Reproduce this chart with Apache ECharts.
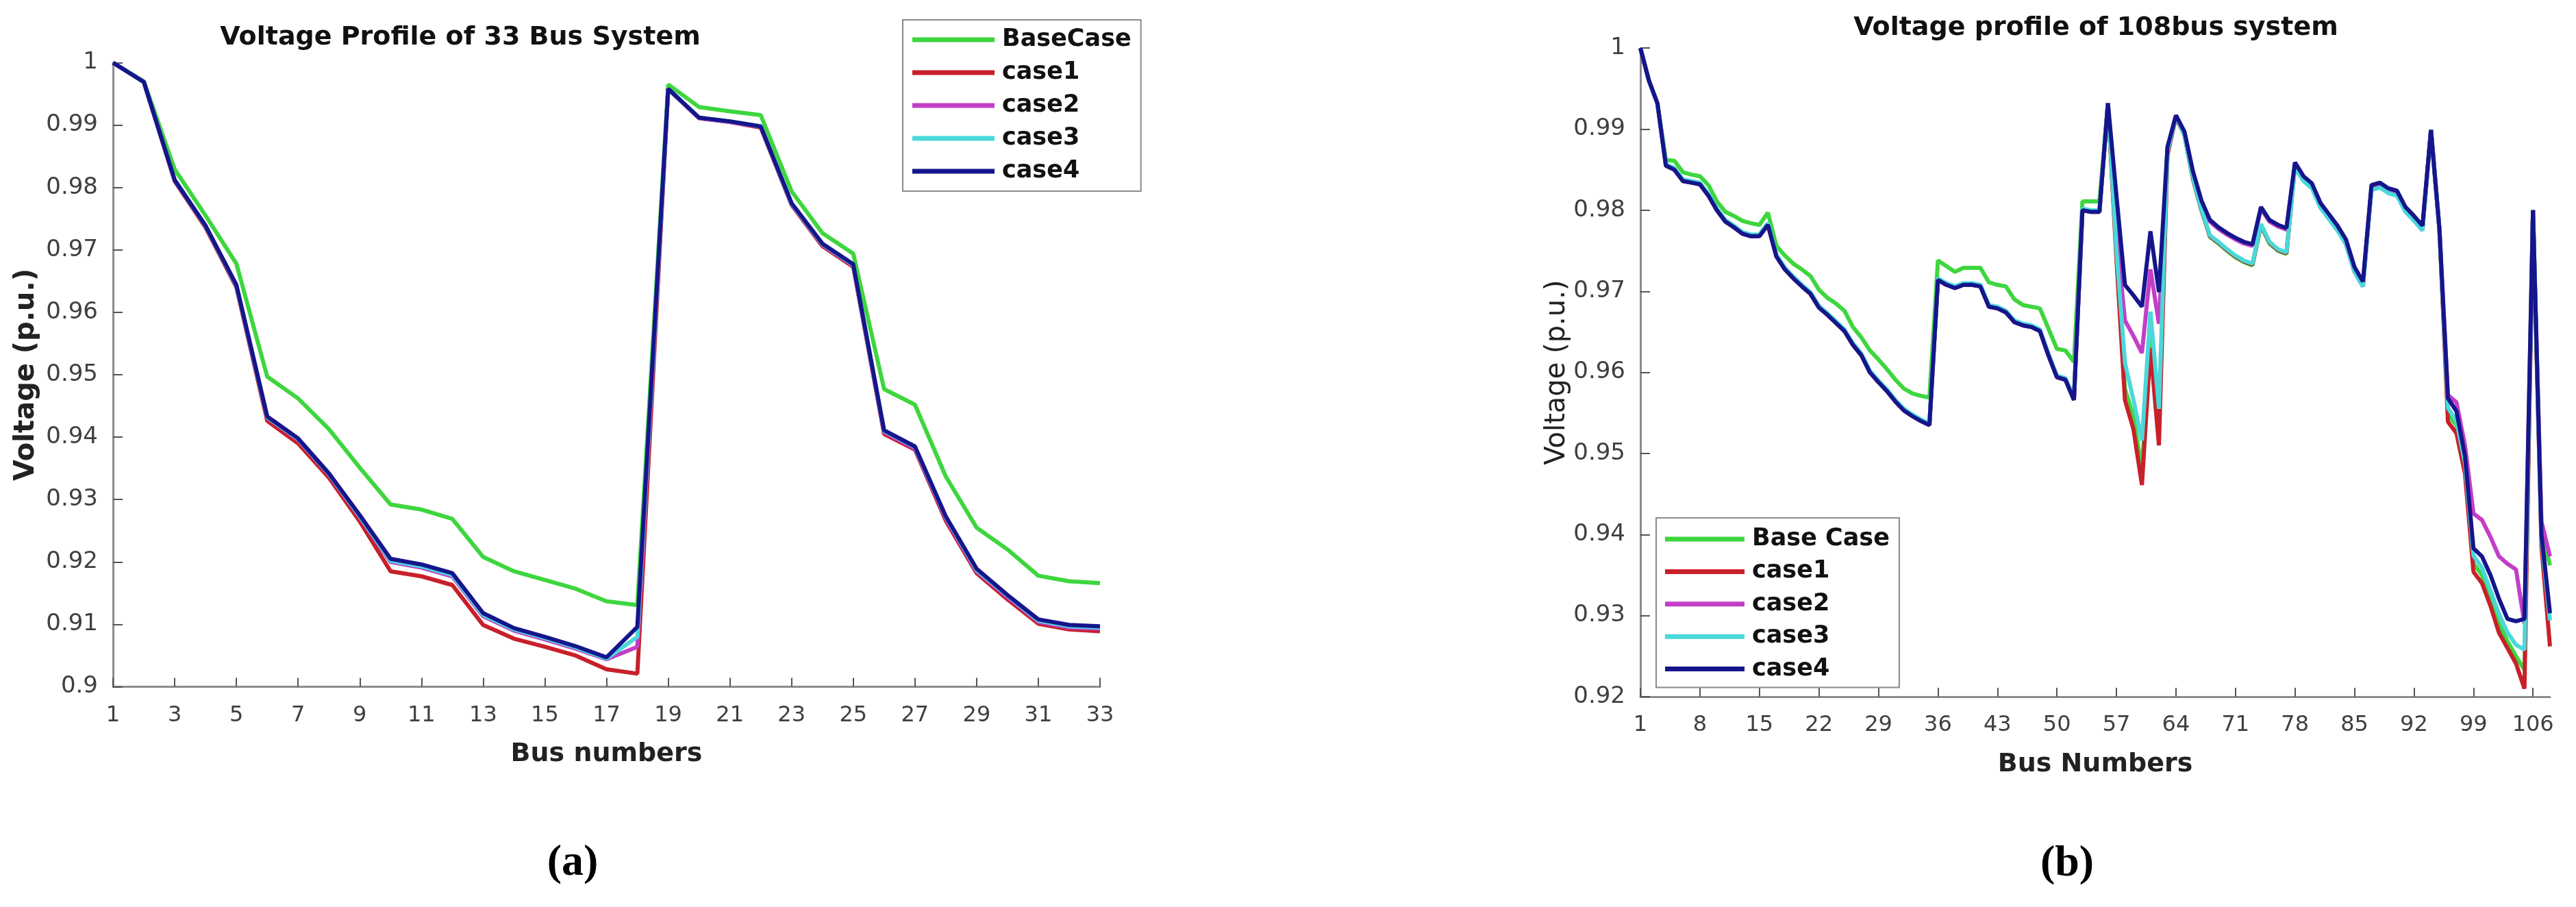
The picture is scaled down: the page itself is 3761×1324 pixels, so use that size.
<!DOCTYPE html>
<html>
<head>
<meta charset="utf-8">
<script src="https://cdn.jsdelivr.net/npm/echarts/dist/echarts.min.js"></script>
<style>
  html, body { margin: 0; padding: 0; background: #fff; }
  #chart { width: 3761px; height: 1324px; }
</style>
</head>
<body>
<div id="chart"></div>
<script>
// ---- 33 bus system ----
const bus33 = [];
for (let i = 1; i <= 33; i++) bus33.push(String(i));

const base33 = [1.0000, 0.9970, 0.9829, 0.9755, 0.9678, 0.9497, 0.9462, 0.9413, 0.9351, 0.9292,
  0.9284, 0.9269, 0.9208, 0.9185, 0.9171, 0.9157, 0.9137, 0.9131, 0.9965, 0.9929,
  0.9922, 0.9916, 0.9794, 0.9727, 0.9694, 0.9477, 0.9452, 0.9337, 0.9255, 0.9220,
  0.9178, 0.9169, 0.9166];
const case1_33 = [1.0000, 0.9969, 0.9810, 0.9736, 0.9640, 0.9426, 0.9390, 0.9335, 0.9265, 0.9185,
  0.9177, 0.9163, 0.9099, 0.9077, 0.9064, 0.9050, 0.9028, 0.9021, 0.9958, 0.9911,
  0.9905, 0.9896, 0.9772, 0.9706, 0.9673, 0.9405, 0.9380, 0.9266, 0.9182, 0.9140,
  0.9101, 0.9092, 0.9089];
const case2_33 = [1.0000, 0.9969, 0.9811, 0.9738, 0.9642, 0.9431, 0.9396, 0.9340, 0.9272, 0.9200,
  0.9191, 0.9177, 0.9113, 0.9090, 0.9076, 0.9061, 0.9044, 0.9064, 0.9958, 0.9911,
  0.9905, 0.9897, 0.9773, 0.9708, 0.9675, 0.9408, 0.9382, 0.9270, 0.9185, 0.9144,
  0.9104, 0.9095, 0.9093];
const case3_33 = [1.0000, 0.9969, 0.9812, 0.9738, 0.9643, 0.9432, 0.9397, 0.9341, 0.9273, 0.9202,
  0.9193, 0.9179, 0.9115, 0.9092, 0.9078, 0.9063, 0.9045, 0.9080, 0.9958, 0.9912,
  0.9906, 0.9898, 0.9774, 0.9709, 0.9676, 0.9410, 0.9384, 0.9272, 0.9187, 0.9146,
  0.9106, 0.9097, 0.9095];
const case4_33 = [1.0000, 0.9969, 0.9812, 0.9739, 0.9644, 0.9433, 0.9398, 0.9342, 0.9275, 0.9205,
  0.9196, 0.9182, 0.9118, 0.9094, 0.9080, 0.9065, 0.9047, 0.9096, 0.9958, 0.9912,
  0.9906, 0.9898, 0.9775, 0.9710, 0.9677, 0.9411, 0.9385, 0.9273, 0.9189, 0.9147,
  0.9108, 0.9099, 0.9097];

// ---- 108 bus system ----
const bus108 = [];
for (let i = 1; i <= 108; i++) bus108.push(String(i));

const base108 = [1.0000, 0.9960, 0.9932, 0.9862, 0.9861, 0.9847, 0.9844, 0.9842, 0.9831, 0.9811,
  0.9798, 0.9793, 0.9787, 0.9784, 0.9782, 0.9797, 0.9756, 0.9744, 0.9734, 0.9727,
  0.9719, 0.9702, 0.9692, 0.9685, 0.9676, 0.9656, 0.9643, 0.9627, 0.9616, 0.9604,
  0.9591, 0.9580, 0.9574, 0.9571, 0.9569, 0.9738, 0.9731, 0.9724, 0.9729, 0.9729,
  0.9729, 0.9711, 0.9708, 0.9706, 0.9690, 0.9683, 0.9681, 0.9679, 0.9654, 0.9629,
  0.9627, 0.9613, 0.9811, 0.9811, 0.9811, 0.9932, 0.9745, 0.9580, 0.9545, 0.9480,
  0.9650, 0.9530, 0.9870, 0.9915, 0.9893, 0.9838, 0.9800, 0.9767, 0.9759, 0.9750,
  0.9742, 0.9736, 0.9732, 0.9781, 0.9759, 0.9750, 0.9746, 0.9856, 0.9839, 0.9830,
  0.9806, 0.9792, 0.9778, 0.9761, 0.9727, 0.9709, 0.9828, 0.9831, 0.9824, 0.9821,
  0.9801, 0.9790, 0.9778, 0.9899, 0.9776, 0.9548, 0.9535, 0.9482, 0.9364, 0.9350,
  0.9322, 0.9290, 0.9268, 0.9250, 0.9233, 0.9800, 0.9405, 0.9362];
const case1_108 = [1.0000, 0.9960, 0.9932, 0.9855, 0.9850, 0.9836, 0.9834, 0.9832, 0.9818, 0.9800,
  0.9786, 0.9779, 0.9771, 0.9768, 0.9768, 0.9782, 0.9743, 0.9727, 0.9716, 0.9706,
  0.9697, 0.9680, 0.9671, 0.9661, 0.9651, 0.9634, 0.9621, 0.9600, 0.9588, 0.9577,
  0.9564, 0.9553, 0.9546, 0.9540, 0.9535, 0.9714, 0.9708, 0.9704, 0.9708, 0.9708,
  0.9706, 0.9681, 0.9679, 0.9674, 0.9662, 0.9658, 0.9656, 0.9651, 0.9621, 0.9594,
  0.9591, 0.9566, 0.9800, 0.9798, 0.9798, 0.9932, 0.9740, 0.9566, 0.9530, 0.9461,
  0.9630, 0.9510, 0.9868, 0.9915, 0.9893, 0.9839, 0.9800, 0.9768, 0.9760, 0.9751,
  0.9743, 0.9737, 0.9733, 0.9782, 0.9760, 0.9751, 0.9747, 0.9855, 0.9838, 0.9829,
  0.9805, 0.9791, 0.9777, 0.9760, 0.9726, 0.9708, 0.9827, 0.9830, 0.9823, 0.9820,
  0.9800, 0.9789, 0.9777, 0.9899, 0.9776, 0.9539, 0.9525, 0.9475, 0.9354, 0.9340,
  0.9312, 0.9279, 0.9260, 0.9241, 0.9210, 0.9800, 0.9385, 0.9262];
const case2_108 = [1.0000, 0.9960, 0.9932, 0.9856, 0.9851, 0.9837, 0.9835, 0.9833, 0.9819, 0.9801,
  0.9787, 0.9780, 0.9772, 0.9769, 0.9769, 0.9783, 0.9744, 0.9728, 0.9717, 0.9707,
  0.9698, 0.9681, 0.9672, 0.9662, 0.9652, 0.9635, 0.9622, 0.9601, 0.9589, 0.9578,
  0.9565, 0.9554, 0.9547, 0.9541, 0.9536, 0.9715, 0.9709, 0.9705, 0.9709, 0.9709,
  0.9707, 0.9682, 0.9680, 0.9675, 0.9663, 0.9659, 0.9657, 0.9652, 0.9622, 0.9595,
  0.9592, 0.9567, 0.9801, 0.9799, 0.9799, 0.9932, 0.9770, 0.9664, 0.9645, 0.9624,
  0.9727, 0.9660, 0.9875, 0.9917, 0.9896, 0.9846, 0.9810, 0.9786, 0.9777, 0.9770,
  0.9764, 0.9759, 0.9756, 0.9802, 0.9786, 0.9780, 0.9776, 0.9855, 0.9838, 0.9829,
  0.9805, 0.9791, 0.9777, 0.9758, 0.9724, 0.9706, 0.9827, 0.9830, 0.9823, 0.9820,
  0.9800, 0.9789, 0.9775, 0.9899, 0.9776, 0.9572, 0.9563, 0.9510, 0.9426, 0.9418,
  0.9397, 0.9373, 0.9364, 0.9357, 0.9290, 0.9800, 0.9416, 0.9373];
const case3_108 = [1.0000, 0.9960, 0.9932, 0.9857, 0.9852, 0.9838, 0.9836, 0.9834, 0.9820, 0.9802,
  0.9788, 0.9781, 0.9773, 0.9770, 0.9770, 0.9784, 0.9745, 0.9729, 0.9718, 0.9708,
  0.9699, 0.9682, 0.9673, 0.9663, 0.9653, 0.9636, 0.9623, 0.9602, 0.9590, 0.9579,
  0.9566, 0.9555, 0.9548, 0.9542, 0.9537, 0.9716, 0.9710, 0.9706, 0.9710, 0.9710,
  0.9708, 0.9683, 0.9681, 0.9676, 0.9664, 0.9660, 0.9658, 0.9653, 0.9623, 0.9596,
  0.9593, 0.9568, 0.9802, 0.9800, 0.9800, 0.9932, 0.9750, 0.9612, 0.9566, 0.9516,
  0.9675, 0.9555, 0.9872, 0.9916, 0.9893, 0.9840, 0.9801, 0.9769, 0.9761, 0.9752,
  0.9744, 0.9738, 0.9734, 0.9783, 0.9761, 0.9752, 0.9748, 0.9853, 0.9836, 0.9827,
  0.9803, 0.9789, 0.9775, 0.9758, 0.9724, 0.9706, 0.9825, 0.9828, 0.9821, 0.9818,
  0.9798, 0.9787, 0.9775, 0.9899, 0.9776, 0.9556, 0.9540, 0.9488, 0.9374, 0.9359,
  0.9331, 0.9302, 0.9279, 0.9264, 0.9258, 0.9800, 0.9395, 0.9294];
const case4_108 = [1.0000, 0.9960, 0.9932, 0.9855, 0.9850, 0.9836, 0.9834, 0.9832, 0.9818, 0.9800,
  0.9786, 0.9779, 0.9771, 0.9768, 0.9768, 0.9782, 0.9743, 0.9727, 0.9716, 0.9706,
  0.9697, 0.9680, 0.9671, 0.9661, 0.9651, 0.9634, 0.9621, 0.9600, 0.9588, 0.9577,
  0.9564, 0.9553, 0.9546, 0.9540, 0.9535, 0.9714, 0.9708, 0.9704, 0.9708, 0.9708,
  0.9706, 0.9681, 0.9679, 0.9674, 0.9662, 0.9658, 0.9656, 0.9651, 0.9621, 0.9594,
  0.9591, 0.9566, 0.9800, 0.9798, 0.9798, 0.9932, 0.9818, 0.9708, 0.9695, 0.9681,
  0.9774, 0.9699, 0.9878, 0.9917, 0.9897, 0.9848, 0.9812, 0.9788, 0.9779, 0.9772,
  0.9766, 0.9761, 0.9758, 0.9804, 0.9788, 0.9782, 0.9778, 0.9859, 0.9842, 0.9833,
  0.9809, 0.9795, 0.9781, 0.9764, 0.9730, 0.9712, 0.9831, 0.9834, 0.9827, 0.9824,
  0.9804, 0.9793, 0.9781, 0.9899, 0.9776, 0.9568, 0.9552, 0.9497, 0.9383, 0.9373,
  0.9350, 0.9321, 0.9296, 0.9293, 0.9296, 0.9800, 0.9400, 0.9303];

const namesA = ['BaseCase', 'case1', 'case2', 'case3', 'case4'];
const namesB = ['Base Case', 'case1', 'case2', 'case3', 'case4'];
const colors = ['#3ed63e', '#c8202a', '#c23ec8', '#4ad8da', '#15158c'];

const FONT = 'DejaVu Sans';

function line(name, data, color, idx) {
  return {
    name: name,
    type: 'line',
    xAxisIndex: idx,
    yAxisIndex: idx,
    data: data,
    symbol: 'none',
    showSymbol: false,
    color: color,
    itemStyle: { color: color },
    lineStyle: { color: color, width: 6 },
    animation: false,
    silent: true
  };
}

function xAxisCfg(idx, cats, every, name, gap) {
  return {
    type: 'category',
    gridIndex: idx,
    data: cats,
    boundaryGap: false,
    axisLine: { lineStyle: { color: '#8c8c8c', width: 3 } },
    axisTick: { inside: true, length: 13, interval: every, lineStyle: { color: '#555', width: 2 } },
    axisLabel: { interval: every, fontFamily: FONT, fontSize: 32, color: '#404040', margin: 26 },
    splitLine: { show: false },
    name: name,
    nameLocation: 'middle',
    nameGap: gap,
    nameTextStyle: { fontFamily: FONT, fontSize: 38, fontWeight: 'bold', color: '#222' }
  };
}

function yAxisCfg(idx, min, name, gap, weight) {
  return {
    type: 'value',
    gridIndex: idx,
    min: min,
    max: 1,
    interval: 0.01,
    axisLine: { show: true, lineStyle: { color: '#8c8c8c', width: 3 } },
    axisTick: { show: true, inside: true, length: 14, lineStyle: { color: '#555', width: 2 } },
    axisLabel: {
      fontFamily: FONT, fontSize: 34, color: '#404040', margin: 22,
      formatter: function (v) { return String(Math.round(v * 100) / 100); }
    },
    splitLine: { show: false },
    name: name,
    nameLocation: 'middle',
    nameGap: gap,
    nameTextStyle: { fontFamily: FONT, fontSize: 40, fontWeight: weight, color: '#222' }
  };
}

function legendCfg(names, left, top, pad, gap, w) {
  return {
    data: names,
    orient: 'vertical',
    left: left,
    top: top,
    padding: pad,
    itemGap: gap,
    itemWidth: w,
    itemHeight: 7,
    icon: 'rect',
    selectedMode: false,
    borderColor: '#8a8a8a',
    borderWidth: 2,
    backgroundColor: '#fff',
    textStyle: { fontFamily: FONT, fontSize: 35, fontWeight: 'bold', color: '#111', lineHeight: 40, padding: [0, 0, 0, 6] }
  };
}

const captionRich = {
  p: { fontFamily: 'Liberation Serif', fontSize: 64, color: '#000' },
  l: { fontFamily: 'Liberation Serif', fontSize: 64, fontWeight: 'bold', color: '#000' }
};

const option = {
  backgroundColor: '#fff',
  animation: false,
  title: [
    { text: 'Voltage Profile of 33 Bus System', left: 672, top: 36, textAlign: 'center', padding: 0,
      textStyle: { fontFamily: FONT, fontSize: 38, fontWeight: 'bold', color: '#111' } },
    { text: 'Voltage profile of 108bus system', left: 3060, top: 22, textAlign: 'center', padding: 0,
      textStyle: { fontFamily: FONT, fontSize: 38, fontWeight: 'bold', color: '#111' } },
    { text: '{p|(}{l|a}{p|)}', left: 836, top: 1228, textAlign: 'center', padding: 0,
      textStyle: { rich: captionRich } },
    { text: '{p|(}{l|b}{p|)}', left: 3018, top: 1229, textAlign: 'center', padding: 0,
      textStyle: { rich: captionRich } }
  ],
  legend: [
    legendCfg(namesA, 1318, 29, [9, 14, 9, 14], 8, 120),
    legendCfg(namesB, 2418, 756, [11, 14, 7, 13], 7.4, 116)
  ],
  grid: [
    { left: 165, top: 91.5, width: 1441, height: 911, containLabel: false },
    { left: 2395, top: 70.2, width: 1328, height: 946.8, containLabel: false }
  ],
  xAxis: [
    xAxisCfg(0, bus33, 1, 'Bus numbers', 80),
    xAxisCfg(1, bus108, 6, 'Bus Numbers', 80)
  ],
  yAxis: [
    yAxisCfg(0, 0.9, 'Voltage (p.u.)', 106, 'bold'),
    yAxisCfg(1, 0.92, 'Voltage (p.u.)', 88, 'normal')
  ],
  series: [
    line(namesA[0], base33, colors[0], 0),
    line(namesA[1], case1_33, colors[1], 0),
    line(namesA[2], case2_33, colors[2], 0),
    line(namesA[3], case3_33, colors[3], 0),
    line(namesA[4], case4_33, colors[4], 0),
    line(namesB[0], base108, colors[0], 1),
    line(namesB[1], case1_108, colors[1], 1),
    line(namesB[2], case2_108, colors[2], 1),
    line(namesB[3], case3_108, colors[3], 1),
    line(namesB[4], case4_108, colors[4], 1)
  ]
};

const chart = echarts.init(document.getElementById('chart'), null, { renderer: 'canvas' });
chart.setOption(option);
</script>
</body>
</html>
